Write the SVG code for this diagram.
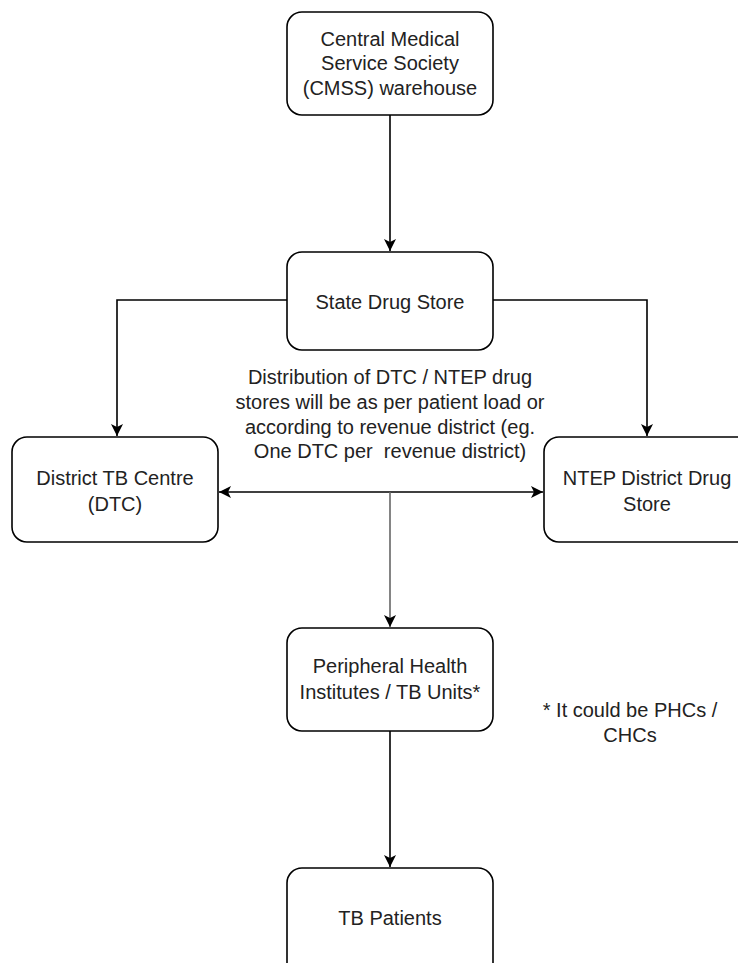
<svg xmlns="http://www.w3.org/2000/svg" width="738" height="963" viewBox="0 0 738 963">
<style>
.box{fill:#fff;stroke:#000;stroke-width:1.6}
.t{font-family:"Liberation Sans",Arial,sans-serif;font-size:20px;fill:#222;text-anchor:middle}
.c{fill:none;stroke:#000;stroke-width:1.6}
</style>
<defs>
<marker id="ah" markerUnits="userSpaceOnUse" markerWidth="14" markerHeight="12" refX="12" refY="6" orient="auto-start-reverse" viewBox="0 0 14 12">
<path d="M0,0 L12,6 L0,12 L3,6 Z" fill="#000"/>
</marker>
</defs>
<rect width="738" height="963" fill="#fff"/>
<g id="connectors">
<path class="c" d="M390,115 V251" marker-end="url(#ah)"/>
<path class="c" d="M287,300 H117 V436" marker-end="url(#ah)"/>
<path class="c" d="M493,300 H647 V436" marker-end="url(#ah)"/>
<path class="c" d="M219,492 H543" marker-start="url(#ah)" marker-end="url(#ah)"/>
<path class="c" d="M390,492 V627" style="stroke:#666" marker-end="url(#ah)"/>
<path class="c" d="M390,731 V867" marker-end="url(#ah)"/>
</g>
<g id="cmss">
<rect class="box" x="287" y="12" width="206" height="103" rx="15"/>
<text class="t" x="390" y="46">Central Medical</text>
<text class="t" x="390" y="70">Service Society</text>
<text class="t" x="390" y="95">(CMSS) warehouse</text>
</g>
<g id="state">
<rect class="box" x="287" y="252" width="206" height="98" rx="15"/>
<text class="t" x="390" y="309">State Drug Store</text>
</g>
<g id="dtc">
<rect class="box" x="12" y="437" width="206" height="105" rx="15"/>
<text class="t" x="115" y="485">District TB Centre</text>
<text class="t" x="115" y="511">(DTC)</text>
</g>
<g id="ntep">
<rect class="box" x="544" y="437" width="210" height="105" rx="15"/>
<text class="t" x="647" y="485">NTEP District Drug</text>
<text class="t" x="647" y="511">Store</text>
</g>
<g id="note">
<text class="t" x="390" y="384">Distribution of DTC / NTEP drug</text>
<text class="t" x="390" y="409">stores will be as per patient load or</text>
<text class="t" x="390" y="434">according to revenue district (eg.</text>
<text class="t" x="390" y="458" style="white-space:pre">One DTC per  revenue district)</text>
</g>
<g id="phi">
<rect class="box" x="287" y="628" width="206" height="103" rx="15"/>
<text class="t" x="390" y="673">Peripheral Health</text>
<text class="t" x="390" y="699">Institutes / TB Units*</text>
</g>
<g id="phc-note">
<text class="t" x="630" y="717">* It could be PHCs /</text>
<text class="t" x="630" y="742">CHCs</text>
</g>
<g id="patients">
<rect class="box" x="287" y="868" width="206" height="110" rx="15"/>
<text class="t" x="390" y="925">TB Patients</text>
</g>
</svg>
